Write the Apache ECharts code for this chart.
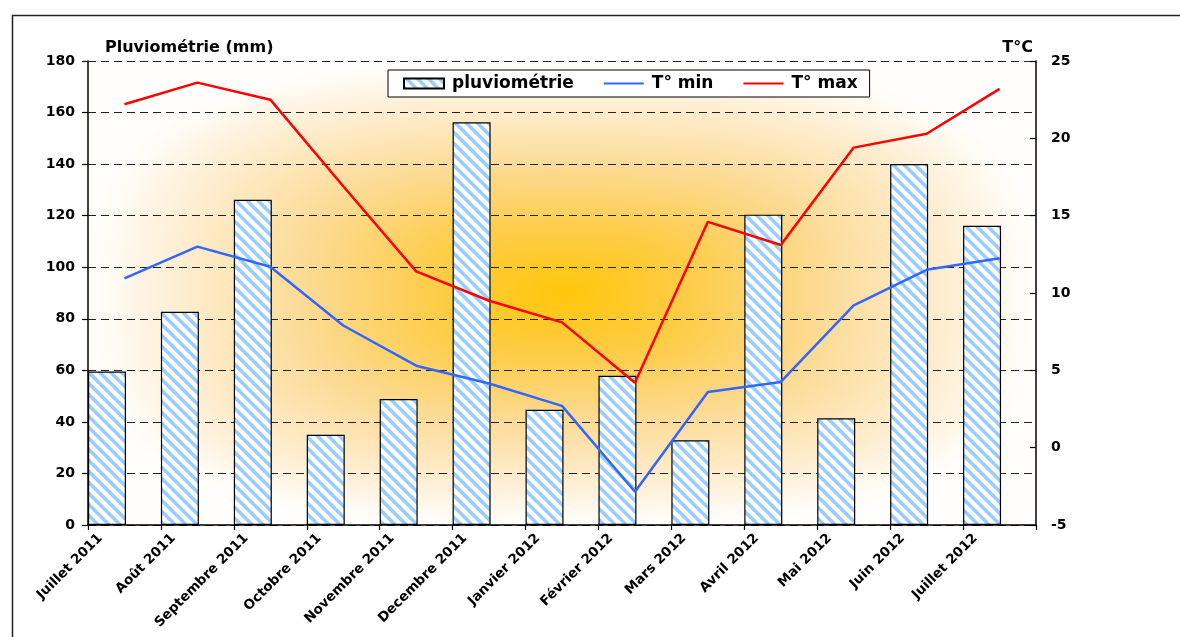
<!DOCTYPE html>
<html>
<head>
<meta charset="utf-8">
<script src="https://cdn.jsdelivr.net/npm/echarts@6/dist/echarts.min.js"></script>
<style>
html,body{margin:0;padding:0;background:#fff;}
#chart{width:1180px;height:637px;}
</style>
</head>
<body>
<div id="chart"></div>
<script>
// ---- data ----
const categories = ['Juillet 2011','Août 2011','Septembre 2011','Octobre 2011','Novembre 2011','Decembre 2011','Janvier 2012','Février 2012','Mars 2012','Avril 2012','Mai 2012','Juin 2012','Juillet 2012'];
const pluviometrie = [59.5, 82.7, 126.2, 35.0, 48.9, 156.2, 44.7, 57.9, 32.9, 120.4, 41.4, 140.0, 116.1];
const tMin = [10.95, 13.0, 11.7, 7.9, 5.3, 4.15, 2.7, -2.85, 3.6, 4.25, 9.2, 11.5, 12.25];
const tMax = [22.2, 23.6, 22.5, 16.9, 11.4, 9.5, 8.1, 4.2, 14.6, 13.1, 19.4, 20.3, 23.2];
const leftAxis = {min: 0, max: 180, interval: 20};
const rightAxis = {min: -5, max: 25, interval: 5};

// ---- layout / style ----
const W = 1180, H = 637;
const GRID = {left: 88, top: 61, right: 144, bottom: 112};
const FONT = '"DejaVu Sans", Arial, sans-serif';

function stripePattern() {
  const n = 11;
  const c = document.createElement('canvas');
  c.width = n; c.height = n;
  const ctx = c.getContext('2d');
  const img = ctx.createImageData(n, n);
  for (let y = 0; y < n; y++) {
    for (let x = 0; x < n; x++) {
      let cnt = 0;
      for (let sy = 0; sy < 4; sy++) for (let sx = 0; sx < 4; sx++) {
        const xs = x + (sx + 0.5) / 4, ys = y + (sy + 0.5) / 4;
        const d = (((xs - ys) % n) + n) % n;
        if (d < 5) cnt++;
      }
      const f = cnt / 16;
      const i = (y * n + x) * 4;
      img.data[i] = Math.round(255 * (1 - f) + 153 * f);
      img.data[i + 1] = Math.round(255 * (1 - f) + 204 * f);
      img.data[i + 2] = 255;
      img.data[i + 3] = 255;
    }
  }
  ctx.putImageData(img, 0, 0);
  return c;
}

function glowBackground(w, h) {
  const c = document.createElement('canvas');
  c.width = w; c.height = h;
  const ctx = c.getContext('2d');
  const img = ctx.createImageData(w, h);
  const stops = [
    [0.00, [255, 198, 10]],
    [0.28, [254, 205, 75]],
    [0.55, [252, 219, 150]],
    [0.80, [254, 237, 207]],
    [0.95, [255, 250, 243]],
    [1.00, [255, 254, 252]]
  ];
  const cx = w / 2, cy = h / 2, p = 3;
  for (let y = 0; y < h; y++) {
    for (let x = 0; x < w; x++) {
      const dx = Math.abs(x - cx) / (w / 2), dy = Math.abs(y - cy) / (h / 2);
      let t = Math.pow(Math.pow(dx, p) + Math.pow(dy, p), 1 / p);
      if (t > 1) t = 1;
      let k = 0;
      while (k < stops.length - 2 && t > stops[k + 1][0]) k++;
      const a = stops[k], b = stops[k + 1];
      const f = (t - a[0]) / (b[0] - a[0]);
      const i = (y * w + x) * 4;
      for (let j = 0; j < 3; j++) img.data[i + j] = Math.round(a[1][j] + (b[1][j] - a[1][j]) * f);
      img.data[i + 3] = 255;
    }
  }
  ctx.putImageData(img, 0, 0);
  return c;
}

const chart = echarts.init(document.getElementById('chart'), null, {renderer: 'canvas'});
const gw = W - GRID.left - GRID.right, gh = H - GRID.top - GRID.bottom;
const legendText = {fontFamily: FONT, fontWeight: 'bold', fontSize: 17, color: '#000', padding: [0, 0, 0, 3]};

const option = {
  backgroundColor: '#fff',
  animation: false,
  graphic: [
    {type: 'image', left: GRID.left, top: GRID.top, z: -10, silent: true,
     style: {image: glowBackground(gw, gh), width: gw, height: gh}},
    {type: 'rect', left: 10, top: 13, z: 100, silent: true,
     shape: {width: 1200, height: 700}, style: {fill: 'none', stroke: '#222', lineWidth: 1.5}}
  ],
  grid: {left: GRID.left, top: GRID.top, right: GRID.right, bottom: GRID.bottom, containLabel: false},
  legend: {
    data: [
      {name: 'pluviométrie', icon: 'rect'},
      {name: 'T° min', itemStyle: {opacity: 0}},
      {name: 'T° max', itemStyle: {opacity: 0}}
    ],
    left: 388, top: 70,
    backgroundColor: '#fff', borderColor: '#000', borderWidth: 1,
    padding: [5, 12, 5, 15],
    itemGap: 29, itemWidth: 40, itemHeight: 10,
    textStyle: legendText
  },
  xAxis: {
    type: 'category', data: categories, boundaryGap: true,
    axisLine: {lineStyle: {color: '#000', width: 1.5}},
    axisTick: {show: true, length: 5, lineStyle: {color: '#000', width: 1.2}},
    axisLabel: {rotate: 45, margin: -13, padding: [0, 34, 0, 0], interval: 0,
                fontFamily: FONT, fontWeight: 'bold', fontSize: 13.5, color: '#000'},
    splitLine: {show: false}
  },
  yAxis: [
    {type: 'value', min: leftAxis.min, max: leftAxis.max, interval: leftAxis.interval,
     name: 'Pluviométrie (mm)', nameLocation: 'end', nameGap: 5,
     nameTextStyle: {fontFamily: FONT, fontWeight: 'bold', fontSize: 16, color: '#000', align: 'left', padding: [0, 0, 0, 17]},
     axisLine: {show: true, lineStyle: {color: '#000', width: 1.5}},
     axisTick: {show: true, length: 6, lineStyle: {color: '#000', width: 1.2}},
     axisLabel: {margin: 13, fontFamily: FONT, fontWeight: 'bold', fontSize: 14, color: '#000'},
     splitLine: {show: true, lineStyle: {color: '#222', width: 1, type: [8, 5]}}
    },
    {type: 'value', min: rightAxis.min, max: rightAxis.max, interval: rightAxis.interval, position: 'right',
     name: 'T°C', nameLocation: 'end', nameGap: 5,
     nameTextStyle: {fontFamily: FONT, fontWeight: 'bold', fontSize: 16, color: '#000', align: 'right', padding: [0, 3, 0, 0]},
     axisLine: {show: true, lineStyle: {color: '#000', width: 1.5}},
     axisTick: {show: true, inside: true, length: 6, lineStyle: {color: '#000', width: 1.2}},
     axisLabel: {margin: 15, fontFamily: FONT, fontWeight: 'bold', fontSize: 14, color: '#000'},
     splitLine: {show: false}
    }
  ],
  series: [
    {name: 'pluviométrie', type: 'bar', data: pluviometrie, yAxisIndex: 0,
     barWidth: 38, barGap: '-8%',
     itemStyle: {color: {image: stripePattern(), repeat: 'repeat'}, borderColor: '#000', borderWidth: 1.2}},
    {name: 'spacer', type: 'bar', data: categories.map(() => null), yAxisIndex: 0, barWidth: 38,
     itemStyle: {color: 'transparent'}},
    {name: 'T° min', type: 'line', data: tMin, yAxisIndex: 1, symbol: 'none',
     lineStyle: {color: '#3366FF', width: 2.5}, itemStyle: {color: '#3366FF'}, z: 5},
    {name: 'T° max', type: 'line', data: tMax, yAxisIndex: 1, symbol: 'none',
     lineStyle: {color: '#FF0000', width: 2.5}, itemStyle: {color: '#FF0000'}, z: 6}
  ]
};
chart.setOption(option);
</script>
</body>
</html>
